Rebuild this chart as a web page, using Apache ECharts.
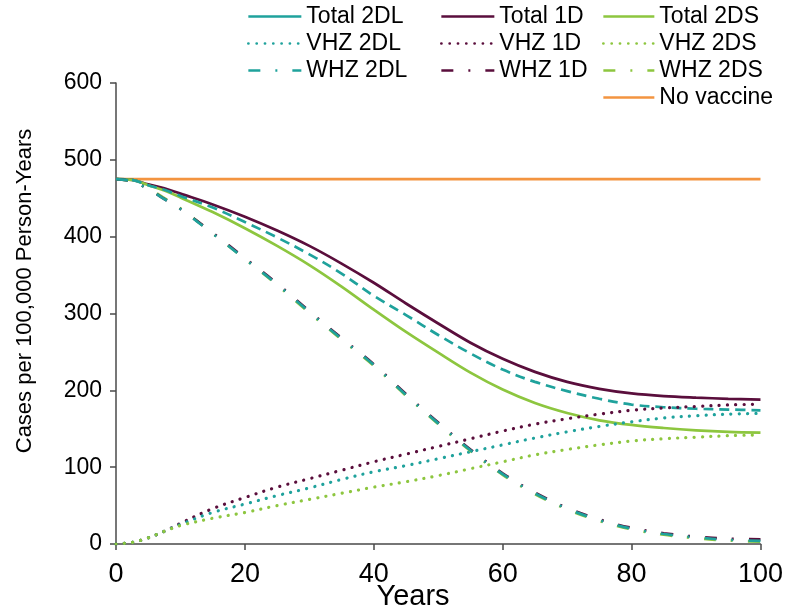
<!DOCTYPE html>
<html>
<head>
<meta charset="utf-8">
<script src="https://cdn.jsdelivr.net/npm/echarts@6/dist/echarts.min.js"></script>
<style>
  html, body { margin: 0; padding: 0; background: #ffffff; }
  #chart { width: 786px; height: 609px; }
</style>
</head>
<body>
<div id="chart"></div>
<script>
// Years since programme start
const years = [0, 2.5, 5, 7.5, 10, 15, 20, 25, 30, 35, 40, 45, 50, 55, 60, 65, 70, 75, 80, 85, 90, 95, 100];

// Total cases per 100,000 person-years
const total2DL = [475, 474, 467, 461, 453, 438, 419, 399, 377, 352, 323, 298, 272, 248, 227, 211, 199, 189, 181.5, 178, 176, 175, 174];
const total1D  = [475, 474, 468, 463, 456, 442, 426, 408, 388, 365, 340, 313, 287, 262, 241, 224, 211, 202, 196, 192.5, 190.5, 189, 188];
const total2DS = [475, 474, 467, 460, 451, 432, 411, 388, 363, 335, 305, 276, 249, 223, 201, 183.5, 170.5, 161, 155, 151, 148, 146, 145];

// Vaccine-strain (VHZ) cases
const vhz2DL = [0, 2, 8, 16.5, 25.5, 41, 52, 63, 73, 84, 94, 102, 111, 120, 129, 138, 146, 153, 159, 164, 167, 169, 170];
const vhz1D  = [0, 2, 8, 16.5, 27, 46, 60.5, 74, 85, 96, 107, 117, 127, 137, 147, 156, 163, 169, 174, 177, 179, 181, 182];
const vhz2DS = [0, 2, 8, 16.5, 24, 33.5, 41, 50, 58, 66, 74, 81, 89, 98, 107, 116, 123, 129, 134, 137, 139, 141, 142];

// Wild-type (WHZ) cases
const whz2DL = [475, 472, 462, 449, 436, 404, 371, 338, 302, 267, 233, 194, 157, 122, 91, 66, 46, 31, 20, 13, 8.5, 5.5, 4];
const whz1D  = [475, 472, 462, 449, 436, 405, 372, 339, 303, 268, 234, 195, 158, 123, 92, 67, 47, 32, 21, 14, 9.5, 7, 6];
const whz2DS = [475, 472, 463, 450, 437, 404, 371, 337, 301, 266, 232, 193, 156, 121, 90, 65, 45, 30, 19, 12, 7.5, 4.5, 3];

// Baseline without vaccination
const noVaccineYears = [0, 100];
const noVaccine = [475, 475];

// Axis ticks
const xTicks = [0, 20, 40, 60, 80, 100];
const yTicks = [0, 100, 200, 300, 400, 500, 600];

const TEAL = '#1fa29c';
const PURPLE = '#5a0e3c';
const GREEN = '#8dc63f';
const ORANGE = '#f39440';
const FONT = 'Liberation Sans, Arial, sans-serif';

const DOT = [0.1, 8.2];
const DASH = [10, 6];
const DASHDOT = [12, 15, 2, 15];

function pairs(xs, ys) { return xs.map((x, i) => [x, ys[i]]); }

function line(name, xs, ys, color, type, extra) {
  return Object.assign({
    name: name,
    type: 'line',
    data: pairs(xs, ys),
    smooth: 0.35,
    symbol: 'none',
    showSymbol: false,
    animation: false,
    lineStyle: {
      color: color,
      width: type === DOT ? 3.2 : 2.7,
      type: type,
      cap: type === DOT ? 'round' : 'butt'
    },
    itemStyle: { color: color }
  }, extra || {});
}

const series = [
  line('No vaccine', noVaccineYears, noVaccine, ORANGE, 'solid', { smooth: false }),
  line('Total 1D', years, total1D, PURPLE, 'solid'),
  line('Total 2DS', years, total2DS, GREEN, 'solid'),
  line('Total 2DL', years, total2DL, TEAL, DASH),
  line('VHZ 1D', years, vhz1D, PURPLE, DOT),
  line('VHZ 2DL', years, vhz2DL, TEAL, DOT),
  line('VHZ 2DS', years, vhz2DS, GREEN, DOT),
  line('WHZ 2DS', years, whz2DS, GREEN, DASHDOT),
  line('WHZ 1D', years, whz1D, PURPLE, DASHDOT),
  line('WHZ 2DL', years, whz2DL, TEAL, DASHDOT)
];

const legendText = { fontFamily: FONT, fontSize: 23, color: '#000' };
function legendCol(left, width, names) {
  return {
    orient: 'vertical', left: left, top: 5, itemWidth: width, itemHeight: 14,
    itemGap: 4, selectedMode: false, padding: 0,
    itemStyle: { opacity: 0 },
    lineStyle: { width: 2.7 },
    textStyle: legendText, data: names
  };
}

const chart = echarts.init(document.getElementById('chart'), null, { renderer: 'canvas' });
chart.setOption({
  backgroundColor: '#ffffff',
  animation: false,
  grid: { left: 116, right: 23, top: 83, bottom: 65, containLabel: false },
  legend: [
    legendCol(247, 53, [{ name: 'Total 2DL', lineStyle: { type: 'solid' } }, 'VHZ 2DL', 'WHZ 2DL']),
    legendCol(440, 53, ['Total 1D', 'VHZ 1D', 'WHZ 1D']),
    legendCol(602, 51, ['Total 2DS', 'VHZ 2DS', 'WHZ 2DS', 'No vaccine'])
  ],
  xAxis: {
    type: 'value', min: xTicks[0], max: xTicks[xTicks.length - 1], interval: 20,
    splitLine: { show: false },
    axisLine: { lineStyle: { color: '#4a4a4a', width: 1.5 } },
    axisTick: { show: true, inside: false, length: 6, lineStyle: { color: '#4a4a4a', width: 1.5 } },
    axisLabel: { fontFamily: FONT, fontSize: 27, color: '#000', margin: 17 }
  },
  yAxis: {
    type: 'value', min: yTicks[0], max: yTicks[yTicks.length - 1], interval: 100,
    splitLine: { show: false },
    axisLine: { show: true, lineStyle: { color: '#4a4a4a', width: 1.5 } },
    axisTick: { show: true, inside: false, length: 6, lineStyle: { color: '#4a4a4a', width: 1.5 } },
    axisLabel: { fontFamily: FONT, fontSize: 23, color: '#000', margin: 14 }
  },
  graphic: [
    {
      type: 'text', x: 25, y: 291, rotation: Math.PI / 2,
      style: { text: 'Cases per 100,000 Person-Years', fontFamily: FONT, fontSize: 22, fill: '#000',
               textAlign: 'center', textVerticalAlign: 'middle' }
    },
    {
      type: 'text', x: 413, y: 597,
      style: { text: 'Years', fontFamily: FONT, fontSize: 29, fill: '#000',
               textAlign: 'center', textVerticalAlign: 'middle' }
    }
  ],
  series: series
});
</script>
</body>
</html>
